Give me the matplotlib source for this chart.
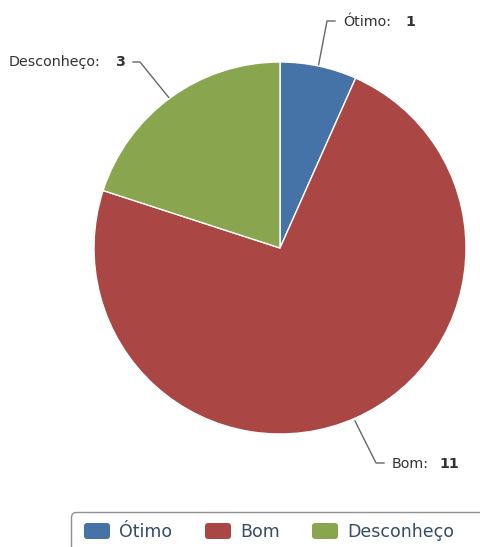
import matplotlib.pyplot as plt
from matplotlib.patches import FancyBboxPatch

# data
labels = ['Ótimo', 'Bom', 'Desconheço']
values = [1, 11, 3]
colors = ['#4572A7', '#AA4643', '#89A54E']

W, H = 480, 547

fig = plt.figure(figsize=(W / 100, H / 100), dpi=100)
ax = fig.add_axes([0, 0, 1, 1])
ax.set_xlim(0, W)
ax.set_ylim(H, 0)
ax.axis('off')

# pie is drawn in a separate axes so it stays round (y up)
pax = fig.add_axes([0, 0, 1, 1])
pax.pie(values, colors=colors, startangle=90, counterclock=False,
        center=(280, H - 248), radius=186, frame=True,
        wedgeprops=dict(edgecolor='white', linewidth=1))
pax.set_xlim(0, W)
pax.set_ylim(0, H)
pax.axis('off')

# connectors and labels (pixel coords, y down)
lc = '#666666'
ax.plot([318, 327, 335], [68, 21, 21], color=lc, lw=1)
ax.plot([133, 140, 170], [62, 62, 99], color=lc, lw=1)
ax.plot([355, 376, 384], [421, 463, 463], color=lc, lw=1)

tc = '#333333'
fs = 10.3
ax.text(343, 22, labels[0] + ':', fontsize=fs, color=tc, va='center')
ax.text(405, 22, str(values[0]), fontsize=fs, color=tc, va='center', fontweight='bold')
ax.text(9, 62, labels[2] + ':', fontsize=fs, color=tc, va='center')
ax.text(116, 62, str(values[2]), fontsize=fs, color=tc, va='center', fontweight='bold')
ax.text(392, 464, labels[1] + ':', fontsize=fs, color=tc, va='center')
ax.text(439, 464, str(values[1]), fontsize=fs, color=tc, va='center', fontweight='bold')

# legend box (cut off at the right and bottom)
box = FancyBboxPatch((71.5, 512.5), 460, 80, boxstyle='round,pad=0,rounding_size=5',
                     facecolor='white', edgecolor='#909090', lw=1)
ax.add_patch(box)
xs = [84, 205, 312]
for x0, lab, c in zip(xs, labels, colors):
    ax.add_patch(FancyBboxPatch((x0, 523), 26, 16, boxstyle='round,pad=0,rounding_size=3',
                                facecolor=c, edgecolor='none'))
    ax.text(x0 + 35, 532, lab, fontsize=12.5, color='#344d66', va='center')

fig.savefig('out.png', dpi=100)
